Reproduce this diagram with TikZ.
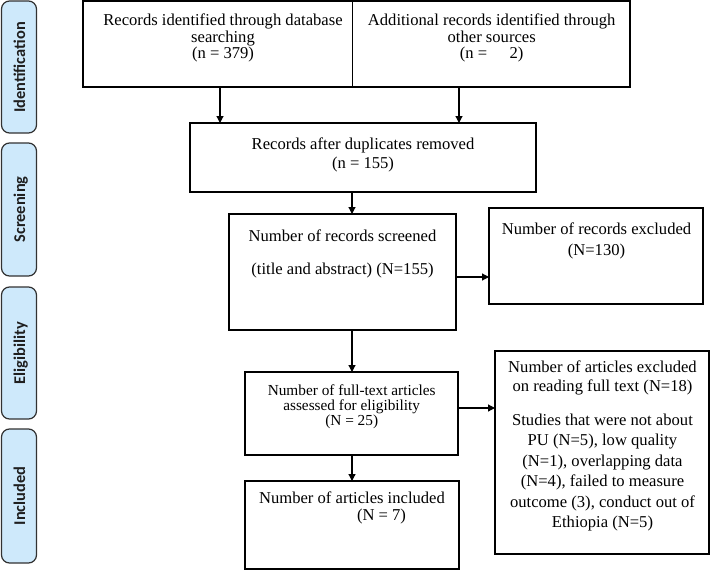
\documentclass[tikz,border=0pt]{standalone}
\usepackage{fontspec}
\setmainfont{Liberation Serif}
\newfontfamily\labfont{Carlito}
\usetikzlibrary{arrows.meta}
\definecolor{phasefill}{RGB}{206,233,251}
\definecolor{phasedraw}{RGB}{50,50,50}
\begin{document}
\begin{tikzpicture}[x=1pt,y=-1pt,
  box/.style={draw=black, line width=1.2pt, fill=white, inner sep=0pt, outer sep=0pt},
  phase/.style={draw=phasedraw, line width=1.2pt, fill=phasefill, rounded corners=8pt, inner sep=0pt, outer sep=0pt, minimum width=35pt},
  phasetxt/.style={rotate=90, anchor=base, inner sep=0pt, text=black!88, font=\labfont\bfseries\fontsize{16.4}{18}\selectfont},
  txt/.style={anchor=base, inner sep=0pt, font=\fontsize{16.6}{17}\selectfont},
  stxt/.style={anchor=base, inner sep=0pt, font=\fontsize{15.3}{16}\selectfont},
  arr/.style={line width=1.2pt, -{Triangle[length=7pt,width=7pt]}}]
\useasboundingbox (0,0) rectangle (710,570);
\fill[white] (0,0) rectangle (710,570);

% phase labels
\node[phase, minimum height=132pt] (p1) at (19,67) {};
\node[phase, minimum height=133pt] (p2) at (19,209.5) {};
\node[phase, minimum height=132pt] (p3) at (19,353) {};
\node[phase, minimum height=134pt] (p4) at (19,496) {};
\node[phasetxt] (p1t) at (25,67.5) {Identification};
\node[phasetxt] (p2t) at (25,209.5) {Screening};
\node[phasetxt] (p3t) at (25,353) {Eligibility};
\node[phasetxt] (p4t) at (25,496) {Included};

% boxes
\node[box, minimum width=269.5pt, minimum height=86pt] (b1) at (217.75,44) {};
\node[box, minimum width=277.5pt, minimum height=86pt] (b2) at (491.25,44) {};
\node[box, minimum width=346pt, minimum height=69pt] (b3) at (363,157.5) {};
\node[box, minimum width=227pt, minimum height=116pt] (b4) at (342.5,272) {};
\node[box, minimum width=214pt, minimum height=96pt] (b5) at (596,256) {};
\node[box, minimum width=213pt, minimum height=83pt] (b6) at (351.5,413.5) {};
\node[box, minimum width=214pt, minimum height=203pt] (b7) at (602,452.5) {};
\node[box, minimum width=214pt, minimum height=88pt] (b8) at (352,525) {};

% texts
\node[txt] (b1l1) at (223,25) {Records identified through database};
\node[txt] (b1l2) at (223,42) {searching};
\node[txt] (b1l3) at (223,58) {(n = 379)};

\node[txt] (b2l1) at (491.7,25) {Additional records identified through};
\node[txt] (b2l2) at (491.7,42) {other sources};
\node[txt] (b2l3) at (491.7,58) {(n = \hspace{1.1em}2)};

\node[txt] (b3l1) at (363,149) {Records after duplicates removed};
\node[txt] (b3l2) at (363,168) {(n = 155)};

\node[txt] (b4l1) at (342.5,241.5) {Number of records screened};
\node[txt] (b4l2) at (342.5,274) {(title and abstract) (N=155)};

\node[txt] (b5l1) at (596.5,234) {Number of records excluded};
\node[txt] (b5l2) at (596.5,255) {(N=130)};

\node[stxt] (b6l1) at (351.7,395.5) {Number of full-text articles};
\node[stxt] (b6l2) at (351.7,410.5) {assessed for eligibility};
\node[stxt] (b6l3) at (351.7,425) {(N = 25)};

\node[txt] (b7l1) at (602.5,372.5) {Number of articles excluded};
\node[txt] (b7l2) at (602.5,391.5) {on reading full text (N=18)};
\node[txt] (b7l3) at (602.5,425) {Studies that were not about};
\node[txt] (b7l4) at (602.5,445.5) {PU (N=5), low quality};
\node[txt] (b7l5) at (602.5,466) {(N=1), overlapping data};
\node[txt] (b7l6) at (602.5,486.5) {(N=4), failed to measure};
\node[txt] (b7l7) at (602.5,507) {outcome (3), conduct out of};
\node[txt] (b7l8) at (602.5,527) {Ethiopia (N=5)};

\node[txt] (b8l1) at (352,503) {Number of articles included};
\node[txt] (b8l2) at (381.5,520) {(N = 7)};

% connectors
\draw[arr] ([xshift=2.25pt]b1.south) -- ([xshift=2.25pt]b1.south |- b3.north);
\draw[arr] ([xshift=-32.25pt]b2.south) -- ([xshift=-32.25pt]b2.south |- b3.north);
\draw[arr] ([xshift=-11pt]b3.south) -- ([xshift=-11pt]b3.south |- b4.north);
\draw[arr] ([yshift=-5pt]b4.east) -- ([yshift=-5pt]b4.east -| b5.west);
\draw[arr] ([xshift=9.5pt]b4.south) -- ([xshift=9.5pt]b4.south |- b6.north);
\draw[arr] ([yshift=5.5pt]b6.east) -- ([yshift=5.5pt]b6.east -| b7.west);
\draw[arr] ([xshift=0.5pt]b6.south) -- ([xshift=0.5pt]b6.south |- b8.north);
\end{tikzpicture}
\end{document}
